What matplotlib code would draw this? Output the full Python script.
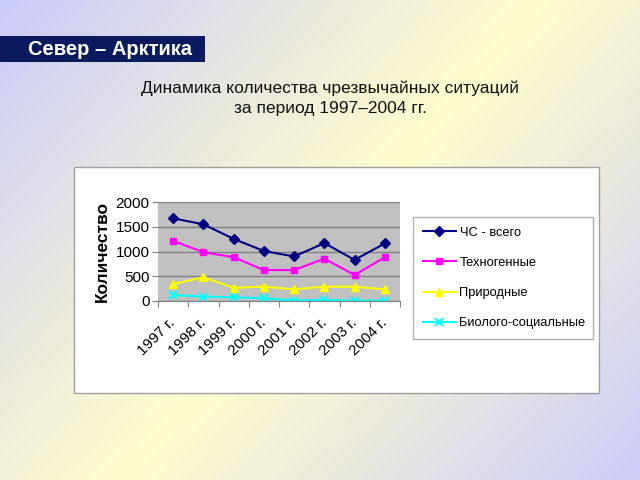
import numpy as np
import matplotlib.pyplot as plt
from matplotlib.patches import Rectangle

plt.rcParams['font.family'] = ['Liberation Sans', 'DejaVu Sans']

years = ['1997 г.', '1998 г.', '1999 г.', '2000 г.', '2001 г.', '2002 г.', '2003 г.', '2004 г.']
total = [1670, 1550, 1255, 1010, 900, 1170, 830, 1165]
techno = [1215, 985, 885, 625, 625, 855, 525, 885]
natural = [340, 480, 265, 290, 235, 290, 290, 235]
bio = [120, 90, 75, 55, 10, 20, 5, 10]
labels = ['ЧС - всего', 'Техногенные', 'Природные', 'Биолого-социальные']

W, H = 640, 480
fig = plt.figure(figsize=(6.4, 4.8), dpi=100)

# background: diagonal gradient, lavender corners, pale yellow band
bg = fig.add_axes([0, 0, 1, 1], zorder=-10)
yy, xx = np.mgrid[0:H, 0:W]
t = (8 * xx + 7 * yy) / 4320.0
s = np.clip(np.abs(t - 1), 0, 1)[..., None]
yellow = np.array([255, 253, 205]) / 255
lav = np.array([203, 203, 250]) / 255
img = yellow * (1 - s) + lav * s
bg.imshow(img, extent=[0, W, H, 0], aspect='auto')
bg.set_xlim(0, W)
bg.set_ylim(H, 0)
bg.axis('off')

# header box
bg.add_patch(Rectangle((0, 36), 205, 26, facecolor='#0b1a5c', edgecolor='none'))
bg.text(28, 49.5, 'Север – Арктика', color='white', fontsize=14.5, fontweight='bold',
        va='center', ha='left')
bg.text(330, 88, 'Динамика количества чрезвычайных ситуаций', fontsize=12.5,
        ha='center', va='center', color='#111111')
bg.text(330, 109, 'за период 1997–2004 гг.', fontsize=12.5,
        ha='center', va='center', color='#111111')

# chart panel
bg.add_patch(Rectangle((74, 167), 525, 226, facecolor='white', edgecolor='#a0a0a0', lw=1))
bg.text(102, 251, 'Количество', rotation=90, fontsize=12.5, fontweight='bold',
        ha='center', va='center')

ax = fig.add_axes([158 / W, 1 - 301 / H, 242 / W, 99 / H])
ax.set_facecolor('#c0c0c0')
x = np.arange(len(years))
l1, = ax.plot(x, total, color='#000080', marker='D', ms=5, lw=1.5)
l2, = ax.plot(x, techno, color='#ff00ff', marker='s', ms=5, lw=1.5)
l3, = ax.plot(x, natural, color='#ffff00', marker='^', ms=6, lw=1.5)
l4, = ax.plot(x, bio, color='#00ffff', marker='x', ms=6, mew=1.5, lw=1.5)
ax.set_xlim(-0.5, len(years) - 0.5)
ax.set_ylim(0, 2000)
ax.set_yticks([0, 500, 1000, 1500, 2000])
ax.yaxis.grid(True, color='#808080', lw=1)
ax.set_axisbelow(True)
ax.set_xticks(np.arange(-0.5, len(years), 1))
ax.set_xticklabels([])
ax.set_xticks(x, minor=True)
ax.set_xticklabels(years, minor=True, rotation=45, ha='right', va='center',
                   rotation_mode='anchor', fontsize=11)
ax.tick_params(axis='x', which='minor', length=0, pad=14)
ax.tick_params(axis='x', which='major', length=4, direction='out', color='#808080')
ax.tick_params(axis='y', labelsize=11, length=4, color='#808080', pad=2)
for side in ['top', 'right', 'left']:
    ax.spines[side].set_visible(False)
ax.spines['bottom'].set_color('#808080')

leg = fig.legend([l1, l2, l3, l4], labels, loc='center left',
                 bbox_to_anchor=(413 / W, 1 - 339 / H, 180 / W, 122 / H), mode='expand',
                 fontsize=9.3, frameon=True, fancybox=False, handlelength=2.6,
                 labelspacing=1.4, borderpad=0.75, borderaxespad=0, handletextpad=0.25)
leg.get_frame().set_edgecolor('#a0a0a0')
leg.get_frame().set_linewidth(1)

fig.savefig('out.png', dpi=100)
